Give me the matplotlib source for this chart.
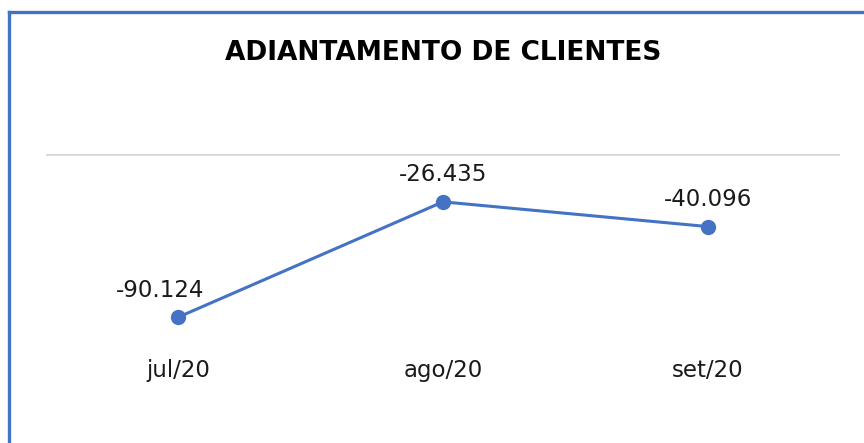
import matplotlib
matplotlib.use("Agg")
import matplotlib.pyplot as plt
from matplotlib.lines import Line2D

categories = ["jul/20", "ago/20", "set/20"]
values = [-90124, -26435, -40096]
title = "ADIANTAMENTO DE CLIENTES"

def fmt(v):
    return f"{v:,.0f}".replace(",", ".")

W, H, DPI = 864, 443, 100
fig = plt.figure(figsize=(W / DPI, H / DPI), dpi=DPI)
fig.patch.set_facecolor("white")

blue = "#4472C4"
# chart frame (left and top visible)
fig.add_artist(Line2D([9 / W, 9 / W], [0, 1 - 12 / H], color=blue, lw=2.4, transform=fig.transFigure, solid_capstyle="projecting"))
fig.add_artist(Line2D([9 / W, 1], [1 - 12 / H, 1 - 12 / H], color=blue, lw=2.4, transform=fig.transFigure, solid_capstyle="projecting"))

ax = fig.add_axes([46 / W, 1 - 335 / H, (840 - 46) / W, (335 - 154) / H])
x = list(range(len(categories)))
ax.plot(x, values, color=blue, lw=2.2, marker="o", markersize=10, zorder=3)
ax.set_xlim(-0.5, len(categories) - 0.5)
ax.set_ylim(-100000, 0)
ax.set_yticks([0])
ax.yaxis.grid(True, color="#D4D4D4", lw=1.8)
ax.set_axisbelow(True)
ax.tick_params(axis="y", left=False, labelleft=False)
ax.tick_params(axis="x", bottom=False, pad=14, labelsize=16.5, labelcolor="#1a1a1a")
ax.set_xticks(x)
ax.set_xticklabels(categories)
for s in ax.spines.values():
    s.set_visible(False)
ax.patch.set_alpha(0)

for xi, v in zip(x, values):
    ax.annotate(fmt(v), (xi, v), xytext=(-18 if xi == 0 else 0, 27), textcoords="offset pixels",
                ha="center", va="center", fontsize=16.5, color="#1a1a1a")

fig.text(443 / W, 1 - 53 / H, title, ha="center", va="center", fontsize=19, fontweight="bold", color="black")

fig.savefig("out.png", dpi=DPI, facecolor="white")
